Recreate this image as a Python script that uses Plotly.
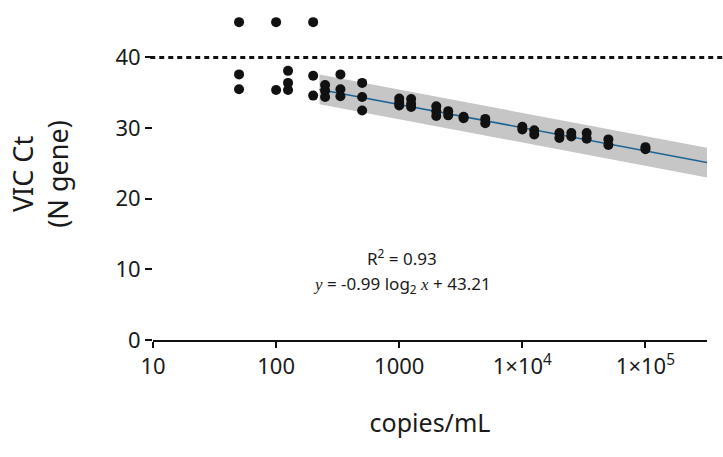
import numpy as np
import plotly.graph_objects as go

# standard curve points (copies/mL vs VIC Ct)
copies = [
    50, 50, 50,
    100, 100,
    125, 125, 125,
    200, 200, 200,
    250, 250, 250,
    333, 333, 333,
    500, 500, 500,
    1000, 1000, 1000,
    1250, 1250, 1250,
    2000, 2000, 2000,
    2500, 2500,
    3333, 3333,
    5000, 5000,
    10000, 10000,
    12500, 12500,
    20000, 20000,
    25000, 25000,
    33333, 33333,
    50000, 50000,
    100000, 100000,
]
ct = [
    45.0, 37.6, 35.5,
    45.0, 35.4,
    38.1, 36.4, 35.4,
    45.0, 37.4, 34.6,
    36.1, 35.3, 34.4,
    37.6, 35.5, 34.5,
    36.4, 34.4, 32.5,
    34.2, 33.6, 33.2,
    34.1, 33.4, 33.0,
    33.1, 32.4, 31.7,
    32.4, 31.8,
    31.6, 31.4,
    31.3, 30.7,
    30.2, 29.8,
    29.7, 29.1,
    29.3, 28.6,
    29.3, 28.8,
    29.3, 28.5,
    28.4, 27.6,
    27.3, 27.0,
]

# fit reported in the chart
slope = -0.99
intercept = 43.21
band = 2.1
fit_x = [225, 10 ** 5.5]
cutoff = 40

tick_vals = [10, 100, 1000, 10000, 100000]
tick_text = ["10", "100", "1000", "1×10<sup>4</sup>", "1×10<sup>5</sup>"]

fx = np.array(fit_x, dtype=float)
fy = slope * np.log2(fx) + intercept

fig = go.Figure()

fig.add_trace(go.Scatter(
    x=list(fx) + list(fx[::-1]),
    y=list(fy + band) + list((fy - band)[::-1]),
    fill="toself",
    fillcolor="#c6c6c6",
    line=dict(width=0),
    mode="lines",
    hoverinfo="skip",
))

fig.add_trace(go.Scatter(
    x=fx, y=fy,
    mode="lines",
    line=dict(color="#1d6496", width=1.6),
))

fig.add_trace(go.Scatter(
    x=copies, y=ct,
    mode="markers",
    marker=dict(color="#111111", size=10),
    cliponaxis=False,
))

fig.add_shape(
    type="line", xref="paper", yref="y",
    x0=-0.005, x1=1.03, y0=cutoff, y1=cutoff,
    line=dict(color="#111111", width=3, dash="5px,4px"),
)

serif_i = "<span style='font-family:Liberation Serif;font-style:italic'>{}</span>"

fig.add_annotation(
    x=np.log10(1050), y=11.7, xref="x", yref="y",
    text="R<sup>2</sup> = 0.93", showarrow=False,
    font=dict(size=17, color="#1a1a1a"),
)
fig.add_annotation(
    x=np.log10(1050), y=7.9, xref="x", yref="y",
    text=serif_i.format("y") + " = -0.99 log<sub>2</sub> " + serif_i.format("x") + " + 43.21",
    showarrow=False,
    font=dict(size=17, color="#1a1a1a"),
)

fig.update_layout(
    width=723, height=457,
    margin=dict(l=153, r=16, t=8, b=117),
    plot_bgcolor="white", paper_bgcolor="white",
    showlegend=False,
    font=dict(family="Noto Sans", color="#1a1a1a"),
)

fig.update_xaxes(
    type="log", range=[1, 5.5], automargin=False,
    tickvals=tick_vals, ticktext=tick_text,
    showgrid=False, zeroline=False,
    showline=True, linecolor="#111111", linewidth=2,
    ticks="outside", ticklen=6, tickwidth=2, tickcolor="#111111",
    tickfont=dict(size=22),
    title=dict(text="copies/mL", font=dict(size=25), standoff=35),
)

fig.update_yaxes(
    range=[0, 47], automargin=False,
    tickvals=[0, 10, 20, 30, 40],
    showgrid=False, zeroline=False, showline=False,
    ticks="outside", ticklen=7, tickwidth=2, tickcolor="#111111",
    tickfont=dict(size=22),
    title=dict(text="VIC Ct<br>(N gene)", font=dict(size=27), standoff=38),
)

fig.write_html("out.html", config={"displayModeBar": False},
               post_script="document.body.style.margin='0';")
